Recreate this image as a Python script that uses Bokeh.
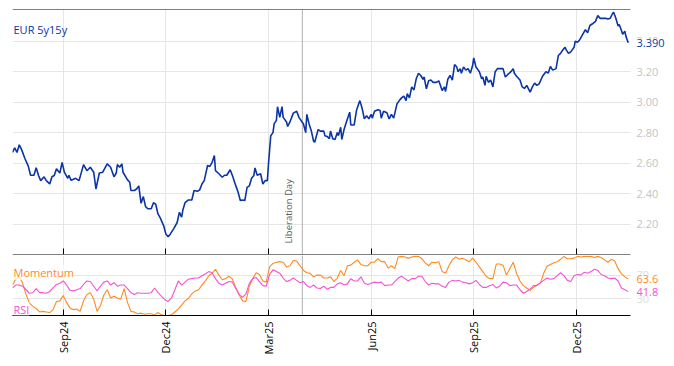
import math
import pandas as pd
from bokeh.plotting import figure
from bokeh.layouts import column
from bokeh.models import (Range1d, FixedTicker, DatetimeAxis, DatetimeTickFormatter,
                          PrintfTickFormatter, Span, Label, ColumnDataSource)
from bokeh.embed import file_html
from bokeh.resources import INLINE

# ---------------- data ----------------
SERIES_NAME = "EUR 5y15y"
START = "2024-07-19"          # first observation
END = "2026-01-18"            # right edge of the time axis
LIBERATION_DAY = "2025-04-02"
EVENT_TEXT = "Liberation Day"

# days since START for the EUR 5y15y observations
EUR_DAY = [
    0, 2, 4, 6, 8, 11, 14, 16, 19, 21,
    23, 25, 28, 30, 33, 35, 37, 39, 42, 44,
    46, 49, 50, 52, 56, 59, 63, 66, 69, 72,
    74, 77, 80, 84, 87, 90, 92, 93, 95, 97,
    98, 102, 104, 105, 108, 110, 112, 114, 116, 118,
    120, 123, 125, 127, 129, 131, 134, 136, 138, 140,
    143, 146, 148, 150, 151, 153, 156, 159, 161, 164,
    166, 168, 170, 173, 175, 177, 179, 180, 183, 186,
    188, 190, 193, 195, 198, 200, 202, 204, 206, 208,
    210, 212, 214, 215, 217, 220, 222, 224, 226, 227,
    229, 231, 232, 234, 235, 237, 239, 240, 243, 244,
    246, 249, 252, 254, 258, 260, 261, 263, 265, 267,
    268, 271, 273, 276, 277, 279, 281, 282, 284, 286,
    288, 289, 291, 292, 294, 296, 299, 300, 303, 305,
    308, 310, 312, 314, 316, 318, 319, 321, 324, 326,
    327, 329, 332, 334, 336, 338, 341, 343, 345, 347,
    349, 350, 352, 354, 356, 358, 360, 362, 364, 365,
    367, 369, 371, 373, 376, 378, 381, 383, 384, 386,
    388, 390, 392, 394, 395, 397, 398, 400, 402, 404,
    406, 408, 409, 411, 414, 416, 417, 419, 420, 422,
    424, 426, 428, 430, 432, 435, 437, 439, 442, 444,
    445, 447, 450, 452, 454, 456, 459, 461, 463, 465,
    467, 470, 473, 475, 477, 479, 482, 484, 486, 488,
    490, 491, 493, 495, 498, 499, 501, 503, 506, 508,
    510, 512, 515, 517, 519, 521, 523, 526, 528, 530,
    532, 533, 535, 537, 538, 540, 541, 543, 544, 546,
]
EUR = [
    2.67, 2.70, 2.67, 2.72, 2.69, 2.63, 2.58, 2.52, 2.52, 2.57,
    2.52, 2.485, 2.51, 2.485, 2.463, 2.51, 2.518, 2.562, 2.535, 2.605,
    2.54, 2.50, 2.52, 2.487, 2.50, 2.485, 2.59, 2.55, 2.573, 2.54,
    2.43, 2.535, 2.54, 2.595, 2.573, 2.51, 2.535, 2.59, 2.573, 2.595,
    2.54, 2.49, 2.474, 2.42, 2.42, 2.43, 2.45, 2.336, 2.38, 2.314,
    2.30, 2.30, 2.34, 2.33, 2.266, 2.24, 2.19, 2.135, 2.117, 2.135,
    2.17, 2.21, 2.277, 2.245, 2.29, 2.34, 2.358, 2.358, 2.42, 2.415,
    2.424, 2.463, 2.485, 2.584, 2.578, 2.605, 2.649, 2.55, 2.53, 2.507,
    2.52, 2.52, 2.556, 2.518, 2.452, 2.41, 2.354, 2.358, 2.354, 2.44,
    2.45, 2.50, 2.518, 2.568, 2.52, 2.53, 2.463, 2.485, 2.485, 2.595,
    2.78, 2.80, 2.857, 2.88, 2.97, 2.90, 2.97, 2.90, 2.87, 2.84,
    2.87, 2.928, 2.94, 2.90, 2.857, 2.80, 2.92, 2.857, 2.81, 2.743,
    2.737, 2.82, 2.81, 2.81, 2.78, 2.775, 2.76, 2.81, 2.76, 2.755,
    2.80, 2.78, 2.835, 2.755, 2.82, 2.868, 2.934, 2.85, 2.85, 2.945,
    3.01, 2.96, 2.89, 2.91, 2.89, 2.92, 2.895, 2.94, 2.95, 2.945,
    2.895, 2.94, 2.93, 2.89, 2.92, 2.895, 2.99, 3.01, 3.028, 3.04,
    3.01, 3.055, 3.028, 3.10, 3.08, 3.153, 3.19, 3.175, 3.15, 3.165,
    3.087, 3.14, 3.145, 3.13, 3.13, 3.14, 3.076, 3.10, 3.07, 3.15,
    3.175, 3.145, 3.247, 3.23, 3.20, 3.22, 3.19, 3.23, 3.21, 3.22,
    3.19, 3.24, 3.29, 3.23, 3.20, 3.153, 3.165, 3.11, 3.17, 3.13,
    3.145, 3.10, 3.20, 3.22, 3.22, 3.22, 3.165, 3.18, 3.20, 3.22,
    3.19, 3.17, 3.145, 3.10, 3.09, 3.11, 3.066, 3.10, 3.125, 3.11,
    3.12, 3.17, 3.20, 3.19, 3.234, 3.21, 3.22, 3.306, 3.32, 3.343,
    3.36, 3.343, 3.32, 3.33, 3.36, 3.40, 3.393, 3.41, 3.449, 3.475,
    3.455, 3.503, 3.518, 3.53, 3.569, 3.55, 3.55, 3.55, 3.545, 3.55,
    3.58, 3.59, 3.55, 3.50, 3.51, 3.47, 3.445, 3.465, 3.43, 3.39,
]

# oscillators, one reading every OSC_STEP_DAYS days from START
OSC_STEP_DAYS = 3
MOMENTUM = [
    53, 64, 67, 56, 37, 22, 17, 13, 7, 8,
    7, 6, 11, 25, 26, 35, 23, 14, 11, 12,
    8, 26, 37, 40, 29, 8, 18, 36, 45, 31,
    34, 31, 29, 47, 23, 8, 7, 4, 5, 3,
    4, 4, 2, 6, 2, 1, 1, 2, 7, 12,
    19, 26, 30, 38, 43, 45, 53, 60, 69, 73,
    80, 70, 62, 64, 68, 63, 49, 36, 26, 25,
    51, 64, 74, 71, 60, 58, 84, 90, 92, 93,
    92, 84, 86, 95, 94, 86, 78, 74, 73, 67,
    70, 70, 65, 65, 67, 59, 65, 78, 69, 86,
    87, 92, 96, 88, 86, 86, 92, 92, 98, 93,
    93, 82, 86, 81, 101, 102, 101, 99, 101, 102,
    102, 98, 91, 86, 92, 91, 93, 76, 73, 86,
    96, 101, 97, 99, 96, 93, 99, 92, 84, 76,
    68, 64, 64, 89, 89, 87, 70, 81, 92, 73,
    60, 52, 48, 44, 49, 53, 56, 73, 85, 88,
    91, 93, 97, 102, 98, 98, 99, 102, 101, 102,
    102, 102, 100, 102, 100, 96, 92, 97, 94, 81,
    72, 67, 63.6,
]
RSI = [
    48, 53, 53, 51, 45, 39, 40, 47, 40, 40,
    39, 42, 48, 54, 56, 60, 53, 44, 43, 45,
    47, 54, 60, 59, 51, 43, 51, 58, 60, 53,
    57, 51, 53, 53, 47, 40, 37, 40, 39, 39,
    39, 40, 48, 40, 34, 28, 25, 31, 45, 60,
    53, 58, 63, 64, 65, 65, 69, 72, 76, 74,
    64, 56, 53, 56, 59, 58, 47, 37, 32, 38,
    56, 64, 66, 59, 52, 51, 71, 79, 76, 73,
    65, 59, 61, 65, 61, 57, 59, 52, 49, 53,
    48, 47, 51, 46, 49, 49, 55, 57, 53, 55,
    64, 60, 60, 67, 56, 54, 56, 58, 57, 58,
    52, 53, 53, 59, 65, 68, 64, 60, 64, 64,
    68, 68, 59, 53, 56, 55, 55, 51, 49, 58,
    61, 60, 61, 58, 57, 55, 57, 61, 54, 49,
    49, 52, 54, 48, 51, 58, 57, 52, 53, 53,
    45, 39, 42, 46, 52, 52, 57, 61, 65, 63,
    64, 69, 74, 69, 61, 59, 69, 71, 70, 75,
    73, 76, 80, 78, 71, 69, 65, 64, 65, 60,
    48, 45, 41.8,
]

MONTH_TICKS = ["2024-09-02", "2024-12-02", "2025-03-03", "2025-06-02", "2025-09-01", "2025-12-01"]
EUR_TICKS = [2.2, 2.4, 2.6, 2.8, 3.0, 3.2, 3.4]
OSC_TICKS = [30, 70]
EUR_RANGE = (2.0, 3.608)
OSC_RANGE = (1.0, 103.5)

# ---------------- styling / layout ----------------
FONT = "Open Sans"
BLUE = "#0B34A4"
ORANGE = "#FF8A1E"
MAGENTA = "#F552D6"
GRID = "#e6e6e6"
TICK_TEXT = "#c4c4c4"
OSC_TICK_TEXT = "#dedede"
EVENT_LINE = "#b0b0b0"
WIDTH = 666
LEFT = 12
PLOT_W = 618           # width of the data area; the rest on the right holds the value tags


def ms(t):
    return pd.Timestamp(t).value / 1e6


start = pd.Timestamp(START)
eur_x = (start + pd.to_timedelta(EUR_DAY, unit="D")).values
eur_src = ColumnDataSource(dict(x=eur_x, y=EUR))
osc_x = pd.date_range(start, periods=len(MOMENTUM), freq=f"{OSC_STEP_DAYS}D").values
osc_src = ColumnDataSource(dict(x=osc_x, mom=MOMENTUM, rsi=RSI))

x0, x1 = ms(START), ms(END)
# the frame extends past END so that the right-hand labels sit inside it
x_frame_end = x1 + (x1 - x0) * (WIDTH - LEFT - PLOT_W) / PLOT_W
xr = Range1d(x0, x_frame_end)
month_ticker = FixedTicker(ticks=[ms(t) for t in MONTH_TICKS])


def style_value_axis(ax, ticks, fmt, color):
    ax.fixed_location = x1
    ax.ticker = FixedTicker(ticks=ticks)
    ax.formatter = PrintfTickFormatter(format=fmt)
    ax.axis_line_color = None
    ax.major_tick_line_color = None
    ax.minor_tick_line_color = None
    ax.major_tick_out = 0
    ax.major_tick_in = 0
    ax.major_label_standoff = 6
    ax.major_label_text_color = color
    ax.major_label_text_font = FONT
    ax.major_label_text_font_size = "11px"


def style_grids(fig, yticks):
    fig.xgrid.ticker = month_ticker
    fig.xgrid.grid_line_color = GRID
    fig.ygrid.ticker = FixedTicker(ticks=yticks)
    fig.ygrid.grid_line_color = GRID
    fig.ygrid.cross_bounds = (x0, x1)


def last_value_tag(fig, value, fmt, color, alpha):
    fig.add_layout(Label(x=x1, y=value, x_offset=6, text=fmt % value,
                         text_align="left", text_baseline="middle", text_color=color,
                         text_font=FONT, text_font_size="11px",
                         background_fill_color="white", background_fill_alpha=alpha))


# ---------------- top panel ----------------
top = figure(width=WIDTH, height=255, x_range=xr, y_range=Range1d(*EUR_RANGE),
             x_axis_type="datetime", y_axis_location="right",
             output_backend="svg", toolbar_location=None,
             min_border_left=LEFT, min_border_right=0, min_border_top=9, min_border_bottom=1)
top.outline_line_color = None

xa = top.xaxis[0]
xa.ticker = month_ticker
xa.fixed_location = EUR_RANGE[0]
xa.bounds = (x0, x1)
xa.major_tick_in = 6
xa.major_tick_out = 0
xa.major_tick_line_color = "black"
xa.minor_tick_line_color = None
xa.axis_line_color = "black"
xa.major_label_text_color = None
xa.major_label_text_font_size = "0px"

above = DatetimeAxis(fixed_location=EUR_RANGE[1], bounds=(x0, x1),
                     major_tick_line_color=None, minor_tick_line_color=None,
                     major_label_text_color=None, major_label_text_font_size="0px",
                     axis_line_color="black")
top.add_layout(above, "above")

style_value_axis(top.yaxis[0], EUR_TICKS, "%.2f", TICK_TEXT)
style_grids(top, EUR_TICKS)

top.add_layout(Span(location=ms(LIBERATION_DAY), dimension="height",
                    line_color=EVENT_LINE, line_width=1, level="underlay"))
top.line("x", "y", source=eur_src, line_color=BLUE, line_width=1.6)

top.add_layout(Label(x=x0, y=EUR_RANGE[1], x_offset=1, y_offset=-20,
                     text=SERIES_NAME, text_align="left", text_baseline="alphabetic",
                     text_color=BLUE, text_font=FONT, text_font_size="11px"))
top.add_layout(Label(x=ms(LIBERATION_DAY), y=EUR_RANGE[0], x_offset=-7, y_offset=11,
                     angle=math.pi / 2, text=EVENT_TEXT, text_align="left",
                     text_baseline="bottom", text_color="#5a5a5a",
                     text_font=FONT, text_font_size="9.5px"))
last_value_tag(top, EUR[-1], "%.3f", BLUE, 1.0)

# ---------------- bottom panel ----------------
bot = figure(width=WIDTH, height=102, x_range=xr, y_range=Range1d(*OSC_RANGE),
             x_axis_type="datetime", y_axis_location="right",
             output_backend="svg", toolbar_location=None,
             min_border_left=LEFT, min_border_right=0, min_border_top=0, min_border_bottom=40)
bot.outline_line_color = None

bx = bot.xaxis[0]
bx.ticker = month_ticker
bx.bounds = (x0, x1)
bx.formatter = DatetimeTickFormatter(
    microseconds="%b%y", milliseconds="%b%y", seconds="%b%y", minsec="%b%y",
    minutes="%b%y", hourmin="%b%y", hours="%b%y", days="%b%y", months="%b%y", years="%b%y")
bx.major_tick_in = 6
bx.major_tick_out = 0
bx.major_tick_line_color = "black"
bx.minor_tick_line_color = None
bx.axis_line_color = "black"
bx.major_label_orientation = math.pi / 2
bx.major_label_standoff = 6
bx.major_label_text_color = "black"
bx.major_label_text_font = FONT
bx.major_label_text_font_size = "11px"

style_value_axis(bot.yaxis[0], OSC_TICKS, "%d", OSC_TICK_TEXT)
style_grids(bot, OSC_TICKS)

bot.add_layout(Span(location=ms(LIBERATION_DAY), dimension="height",
                    line_color=EVENT_LINE, line_width=1, level="underlay"))
bot.line("x", "mom", source=osc_src, line_color=ORANGE, line_width=1.1)
bot.line("x", "rsi", source=osc_src, line_color=MAGENTA, line_width=1.1)

bot.add_layout(Label(x=x0, y=OSC_RANGE[1], x_offset=1, y_offset=-17,
                     text="Momentum", text_align="left", text_baseline="alphabetic",
                     text_color=ORANGE, text_font=FONT, text_font_size="11px",
                     background_fill_color="white", background_fill_alpha=0.7))
bot.add_layout(Label(x=x0, y=OSC_RANGE[0], x_offset=1, y_offset=6,
                     text="RSI", text_align="left", text_baseline="alphabetic",
                     text_color=MAGENTA, text_font=FONT, text_font_size="11px",
                     background_fill_color="white", background_fill_alpha=0.7))
last_value_tag(bot, MOMENTUM[-1], "%.1f", ORANGE, 0.8)
last_value_tag(bot, RSI[-1], "%.1f", MAGENTA, 0.8)

layout = column(top, bot, spacing=0)
open("out.html", "w").write(file_html(layout, INLINE))
